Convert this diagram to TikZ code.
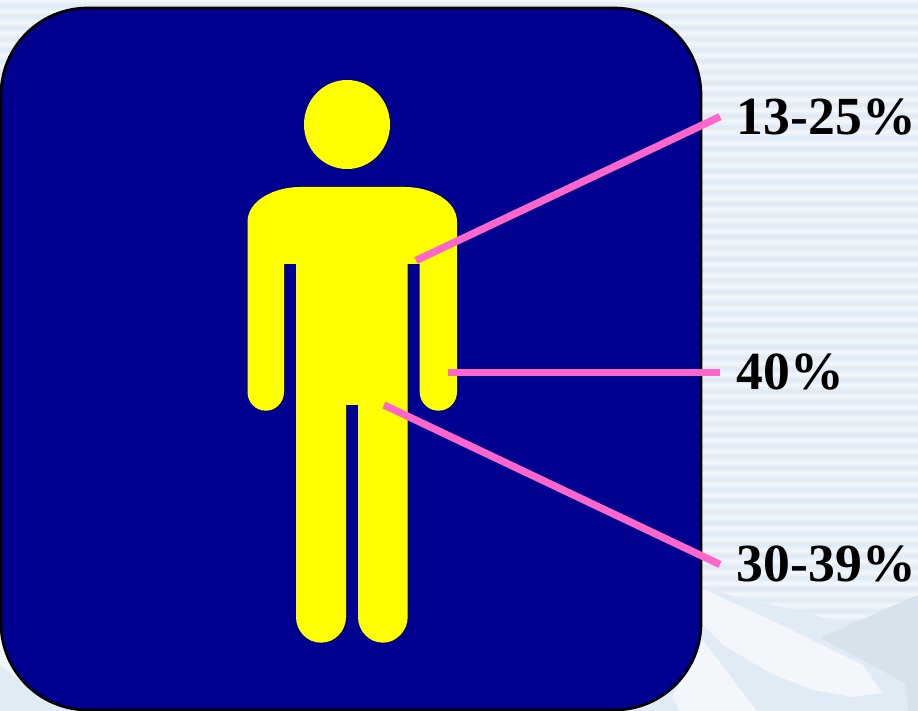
\documentclass[tikz,border=0pt]{standalone}
\usepackage{fontspec}
\setmainfont{Liberation Serif}
\usetikzlibrary{positioning, calc}
\definecolor{stripedark}{HTML}{E1EBF5}
\definecolor{stripemid}{HTML}{E9F0F8}
\definecolor{stripelight}{HTML}{F1F6FB}
\definecolor{icepale}{HTML}{F3F7FC}
\definecolor{icegrey}{HTML}{D8E2EC}
\definecolor{panelblue}{RGB}{0,0,144}
\definecolor{figyellow}{RGB}{255,255,0}
\definecolor{leaderpink}{RGB}{255,102,204}
\tikzset{
  % Figure
  panel/.style     = { draw=black, line width=0.08cm, fill=panelblue, rounded corners=2.6cm },
  figure/.style    = { fill=figyellow },
  % Labels and leaders
  pctlabel/.style  = { font=\fontsize{45.8pt}{45.8pt}\selectfont\bfseries, anchor=west,
                        inner xsep=0.5cm, inner ysep=0 },
  leader/.style    = { leaderpink, line width=0.22cm }
}
\begin{document}
\begin{tikzpicture}[x=0.03cm, y=-0.03cm]
  \useasboundingbox (0,0) rectangle (918,711);

  % --- Backdrop -------------------------------------------------
  \fill[stripelight] (0,0) rectangle (918,711);
  \foreach \s in {0,...,64} {
    \fill[stripemid] (0,{2+11*\s}) rectangle (918,{10+11*\s});
    \fill[stripedark] (0,{4+11*\s}) rectangle (918,{8+11*\s});
  }

  \fill[stripedark] (0,665) -- (40,680) -- (701,588) -- (918,640) -- (918,711) -- (0,711) -- cycle;
  \fill[icegrey] (918,595) -- (820,638) -- (905,683) -- (908,711) -- (918,711) -- cycle;
  \fill[stripedark] (777,622) -- (820,638) -- (905,683) -- (908,711) -- (700,711) -- (700,620) -- cycle;
  \fill[icepale] (701,588) -- (777,623) -- (863,665) -- (882,693) -- (853,697) -- (813,690)
    -- (770,673) -- (723,645) -- (701,623) -- cycle;
  \fill[icepale] (703,640) -- (757,711) -- (680,711) -- (672,697) -- cycle;
  \fill[icepale] (0,640) -- (15,640) -- (20,680) -- (0,665) -- cycle;

  % --- Panel and figure -----------------------------------------
  \draw[panel] (1,8) rectangle (701,710);

  \fill[figure] (347,124.5) ellipse [x radius=43, y radius=44.5];
  \fill[figure] (247.5,222) .. controls (247.5,200) and (275,187) .. (300,187)
    -- (405,187) .. controls (430,187) and (457,200) .. (457,222)
    -- (457,392) .. controls (457,402) and (449,410.7) .. (438.5,410.7)
    .. controls (428,410.7) and (419.7,402) .. (419.7,392)
    -- (419.7,264) -- (407.7,264) -- (407.7,617)
    .. controls (407.7,631) and (396,642.7) .. (383,642.7)
    .. controls (369,642.7) and (358,631) .. (358,617)
    -- (358,405) -- (346,405) -- (346,617)
    .. controls (346,631) and (335,642.7) .. (321,642.7)
    .. controls (307,642.7) and (296,631) .. (296,617)
    -- (296,264) -- (284,264) -- (284,392)
    .. controls (284,402) and (276,410.7) .. (266,410.7)
    .. controls (255,410.7) and (247.5,402) .. (247.5,392) -- cycle;

  % --- Labels and leaders ---------------------------------------
  \node[pctlabel] (upper) at (720,116.7) {13-25\%};
  \node[pctlabel] (arm)   at (720,372.5) {40\%};
  \node[pctlabel] (lower) at (720,564.5) {30-39\%};

  \coordinate (shoulder) at (416,260.5);
  \coordinate (hand)     at (448,372.5);
  \coordinate (groin)    at (384,405);

  \draw[leader] (shoulder) -- (upper.west);
  \draw[leader] (hand) -- (arm.west);
  \draw[leader] (groin) -- (lower.west);
\end{tikzpicture}
\end{document}
